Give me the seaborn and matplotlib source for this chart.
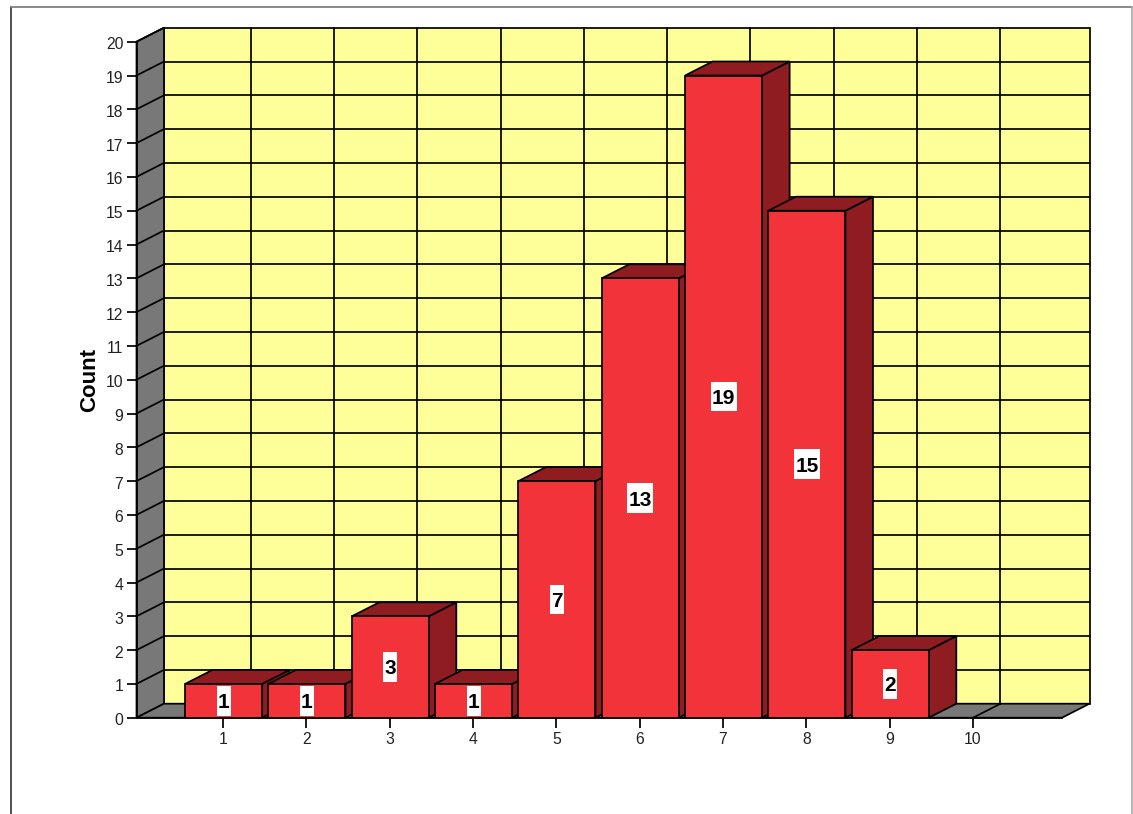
import matplotlib
matplotlib.use("Agg")
import matplotlib.pyplot as plt
from matplotlib.patches import Polygon, Rectangle
from matplotlib.lines import Line2D
from matplotlib.transforms import ScaledTranslation
import seaborn as sns
import pandas as pd

# --- Data ---
categories = [1, 2, 3, 4, 5, 6, 7, 8, 9]
counts = [1, 1, 3, 1, 7, 13, 19, 15, 2]
x_ticks = [1, 2, 3, 4, 5, 6, 7, 8, 9, 10]
y_ticks = list(range(0, 21))

# --- Style ---
WALL = "#FFFF99"
SIDE = "#787878"
BAR = "#F2333A"
BAR_DARK = "#8E1C21"
LW = 1.25

W, H = 1133, 814
sns.set_style("white")
plt.rcParams["font.family"] = ["Liberation Sans", "DejaVu Sans"]

fig = plt.figure(figsize=(W / 100, H / 100), dpi=100)
# front plane of the fake 3D box, in pixels of the reference
left, right, top, bottom = 136.5, 1062, 41.7, 717.7
ax = fig.add_axes([left / W, 1 - bottom / H, (right - left) / W, (bottom - top) / H])

df = pd.DataFrame({"category": categories, "count": counts})
sns.barplot(data=df, x="category", y="count", native_scale=True, width=0.925,
            color=BAR, saturation=1, edgecolor="black", linewidth=LW, ax=ax)

px_x = 83.33
px_y = (bottom - top) / 20
xmin = 1 - (223 - left) / px_x
xmax = 10 + (right - 973) / px_x
ax.set_xlim(xmin, xmax)
ax.set_ylim(0, 20)

# depth of the box in data units
dx = 27.5 / px_x
dy = 14 / px_y
bar_shift = 0.6 / px_x  # bars sit slightly right of their ticks

# --- Walls and floor ---
def face(points, color, z):
    ax.add_patch(Polygon(points, closed=True, facecolor=color, edgecolor="black",
                         linewidth=LW, zorder=z, clip_on=False))

face([(xmin + dx, dy), (xmax + dx, dy), (xmax + dx, 20 + dy), (xmin + dx, 20 + dy)], WALL, 1)
face([(xmin, 0), (xmin + dx, dy), (xmin + dx, 20 + dy), (xmin, 20)], SIDE, 1)
face([(xmin, 0), (xmax, 0), (xmax + dx, dy), (xmin + dx, dy)], SIDE, 1)

for v in y_ticks[1:-1]:
    ax.plot([xmin + dx, xmax + dx], [v + dy, v + dy], color="black", lw=LW, zorder=2, clip_on=False)
for v in y_ticks[1:]:
    ax.plot([xmin, xmin + dx], [v, v + dy], color="black", lw=LW, zorder=2, clip_on=False)
for t in x_ticks:
    ax.plot([t + dx, t + dx], [dy, 20 + dy], color="black", lw=LW, zorder=2, clip_on=False)
    ax.plot([t, t + dx], [0, dy], color="black", lw=LW, zorder=2, clip_on=False)

# --- Bars: the library draws the fronts, depth faces are added from them ---
for i, patch in enumerate(list(ax.containers[0])):
    patch.set_x(patch.get_x() + bar_shift)
    x0, w, h = patch.get_x(), patch.get_width(), patch.get_height()
    x1 = x0 + w
    z = 5 + i * 2
    patch.set_zorder(z + 1)
    face([(x1, 0), (x1 + dx, dy), (x1 + dx, h + dy), (x1, h)], BAR_DARK, z)
    face([(x0, h), (x1, h), (x1 + dx, h + dy), (x0 + dx, h + dy)], BAR_DARK, z)

# --- Value labels: tall white box behind the number ---
for c, v in zip(categories, counts):
    label = str(v)
    box_w = (14 if len(label) == 1 else 26) / px_x
    box_h = 29.5 / px_y
    cx = c + bar_shift
    ax.add_patch(Rectangle((cx - box_w / 2, v / 2 - box_h / 2), box_w, box_h,
                           facecolor="white", edgecolor="none", zorder=99, clip_on=False))
    ax.text(cx, v / 2, label, ha="center", va="center_baseline", fontsize=15,
            fontweight="bold", color="black", zorder=100)

# --- Axes ---
sns.despine(ax=ax, top=True, right=True)
for s in ["left", "bottom"]:
    ax.spines[s].set_linewidth(LW)
    ax.spines[s].set_color("black")
    ax.spines[s].set_zorder(60)
ax.set_xticks(x_ticks)
ax.set_yticks(y_ticks)
ax.tick_params(axis="both", direction="out", length=7.5, width=LW, color="black",
               labelcolor="#222222", bottom=True, left=True)
ax.tick_params(axis="y", labelsize=11.3, pad=2)
ax.tick_params(axis="x", labelsize=11.3, pad=2.5)
ax.set_xlabel("")
ax.set_ylabel("")
# y labels sit a little under their ticks in the original
nudge = ScaledTranslation(0, -1.5 / 100, fig.dpi_scale_trans)
for lab in ax.get_yticklabels():
    lab.set_transform(lab.get_transform() + nudge)
fig.text(89.5 / W, 1 - 379.5 / H, "Count", rotation=90, ha="center", va="center",
         fontsize=16, fontweight="bold", color="black")

# --- Outer frame of the screenshot ---
fig.add_artist(Line2D([11 / W, 11 / W], [0, 1 - 7 / H], color="#333333", lw=1.2))
fig.add_artist(Line2D([11 / W, 1131.5 / W], [1 - 7 / H, 1 - 7 / H], color="#777777", lw=1.2))
fig.add_artist(Line2D([1131.5 / W, 1131.5 / W], [0, 1 - 7 / H], color="#aaaaaa", lw=1.2))

fig.savefig("out.png", dpi=100)
